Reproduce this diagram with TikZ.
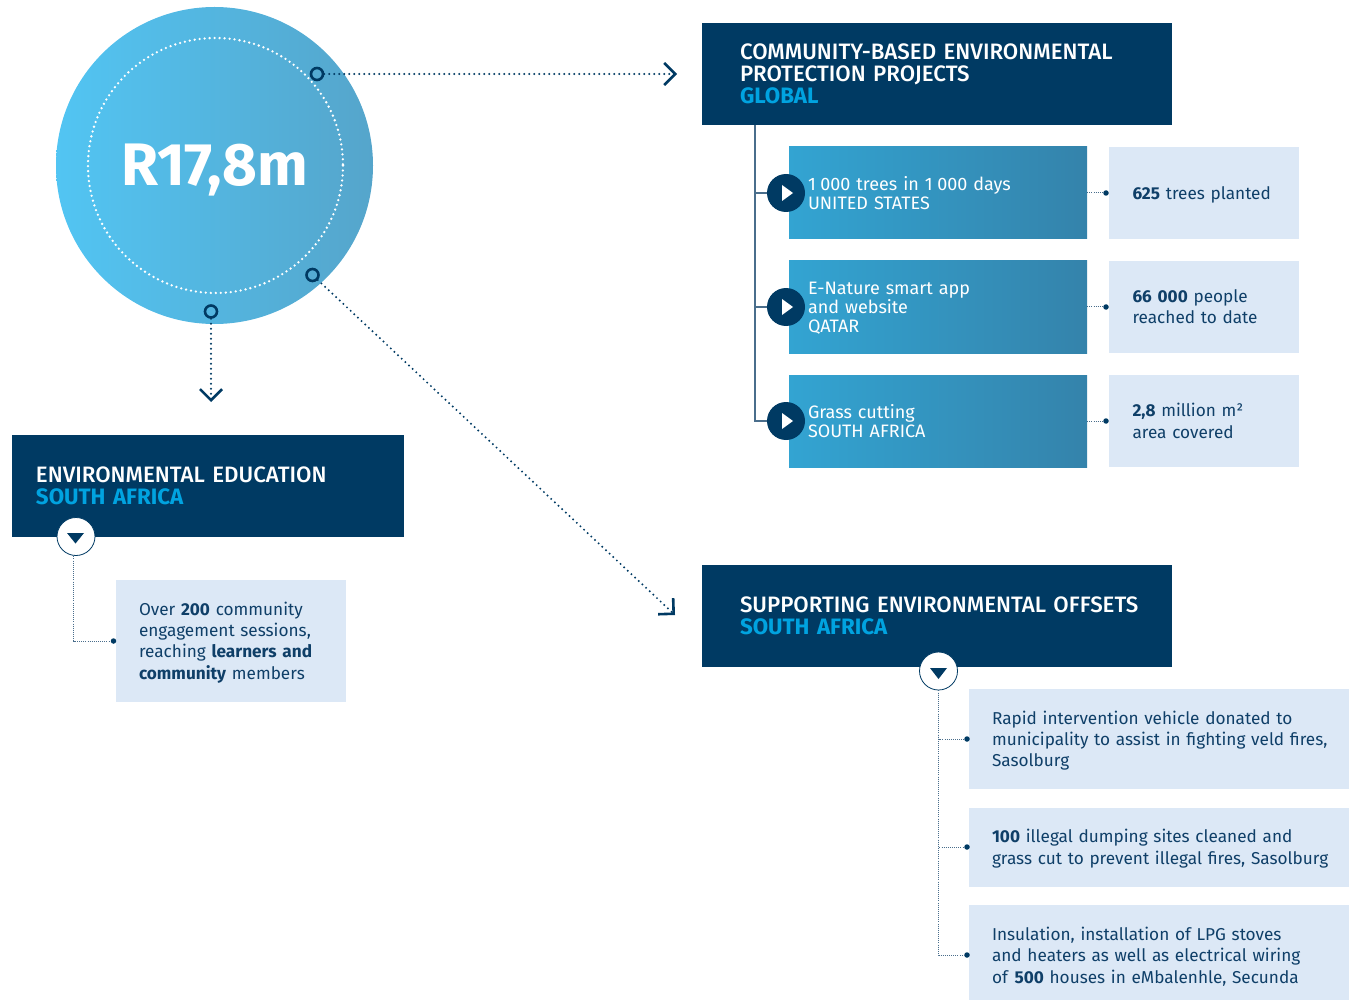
\documentclass[tikz,border=0pt]{standalone}
\usepackage{fontspec}
\setmainfont{Fira Sans}
\newfontfamily\headfont[BoldFont={Fira Sans Bold}]{Fira Sans Medium}
\usetikzlibrary{arrows.meta}

\definecolor{navy}{HTML}{003A63}
\definecolor{skyblue}{HTML}{00A3E0}
\definecolor{palebox}{HTML}{DCE8F6}
\definecolor{bodyink}{HTML}{0F3F68}
\definecolor{treeink}{HTML}{4A6E8C}
\definecolor{fundleft}{HTML}{33A4D2}
\definecolor{fundright}{HTML}{3483AB}
\definecolor{discleft}{HTML}{52C5F3}
\definecolor{discright}{HTML}{55A5CB}

\tikzset{inset/.style={inner xsep=0pt, inner ysep=0pt, align=left, execute at begin node={\leftskip=#1pt\relax}},
         dropped/.style={execute at begin node={\rule{0pt}{#1pt}}}}

\begin{document}
\begin{tikzpicture}[x=1pt, y=-1pt, node distance=114pt, >={Straight Barb[length=11pt, width=22pt, line width=2.6pt]}]
    \tikzstyle{headblock} = [rectangle, fill=navy, text=white, minimum height=102pt, inset=38, text width=470pt,
                            font=\headfont\fontsize{22.3}{21.8}\selectfont]
    \tikzstyle{fundblock} = [rectangle, left color=fundleft, middle color=fundleft!55!fundright, right color=fundright, text=white,
                            minimum height=92pt, inset=19, text width=298pt, font=\fontsize{18}{19}\selectfont]
    \tikzstyle{resultblock} = [rectangle, fill=palebox, text=bodyink, font=\fontsize{17.2}{21.3}\selectfont]
    \tikzstyle{ring} = [circle, draw=navy, line width=2.6pt, minimum size=12pt, inner sep=0pt]
    \tikzstyle{playdisc} = [circle, fill=navy, minimum size=38pt, inner sep=0pt]
    \tikzstyle{toggle} = [circle, fill=white, draw=navy, line width=.8pt, minimum size=38pt, inner sep=0pt]
    \tikzstyle{endpoint} = [circle, fill=navy, minimum size=5.5pt, inner sep=0pt]
    \tikzstyle{bigdots} = [navy, line width=2.2pt, line cap=round, dash pattern=on 0pt off 5pt]
    \tikzstyle{finedots} = [treeink, line width=1pt, dash pattern=on 1pt off 1.1pt]
    \tikzstyle{treeline} = [treeink, line width=1.1pt]

    \useasboundingbox (0,0) rectangle (1349,1000);

    % Disc and its three exits
    \node[circle, minimum size=317pt, inner sep=0pt, left color=discleft, middle color=discleft!50!discright, right color=discright, text=white,
          text height=40pt, text depth=0pt, font=\fontsize{60}{60}\selectfont\bfseries] (disc) at (214.5,165.5) {R17,8m};
    \draw[white, line width=2.6pt, line cap=round, dash pattern=on 0pt off 5pt] (215.5,165.5) circle[radius=127.5];
    \node[ring] (ringright) at (317,74) {};
    \node[ring] (ringdiag) at (312.5,275) {};
    \node[ring] (ringdown) at (211,311.5) {};
    \coordinate (endright) at (677,74);
    \coordinate (enddiag) at (675,615);
    \coordinate (enddown) at (211,402);
    \draw[bigdots, ->] (ringright) -- (endright);
    \draw[bigdots, ->] (ringdiag) -- (enddiag);
    \draw[bigdots, ->] (ringdown) -- (enddown);

    % Headers
    \node[headblock] (global) at (937,74) {COMMUNITY-BASED ENVIRONMENTAL\\PROTECTION PROJECTS\\\textcolor{skyblue}{\bfseries GLOBAL}};
    \node[headblock] (offsets) at (937,616) {SUPPORTING ENVIRONMENTAL OFFSETS\\\textcolor{skyblue}{\bfseries SOUTH AFRICA}};
    \node[headblock, inset=24, text width=392pt] (education) at (208,486) {ENVIRONMENTAL EDUCATION\\\textcolor{skyblue}{\bfseries SOUTH AFRICA}};

    % Global projects
    \coordinate (trunk) at (755,125);
    \node[fundblock] (trees) at (938,193) {1\hspace{4.5pt}000 trees in 1\hspace{4.5pt}000 days\\UNITED STATES};
    \node[fundblock, below of = trees, dropped=15] (app) {E-Nature smart app\\and website\\QATAR};
    \node[fundblock, below of = app] (grass) {Grass cutting\\SOUTH AFRICA};
    \node[resultblock, minimum height=92pt, inset=23.5, text width=190pt, dropped=17.5] (planted) at (1204,193) {\textbf{625} trees planted};
    \node[resultblock, minimum height=92pt, inset=23.5, text width=190pt, below of = planted] (reached) {\textbf{66 000} people\\reached to date};
    \node[resultblock, minimum height=92pt, inset=23.5, text width=190pt, below of = reached] (covered) {\textbf{2,8} million m²\\area covered};
    \draw[treeline] (trunk) -- (trunk |- 0,421) -- (786,421);
    \draw[treeline] (trunk |- 0,193) -- (786,193);
    \draw[treeline] (trunk |- 0,307) -- (786,307);
    \node[playdisc] (playtrees) at (786,193) {};
    \node[playdisc, below of = playtrees] (playapp) {};
    \node[playdisc, below of = playapp] (playgrass) {};
    \foreach \p in {playtrees,playapp,playgrass}
        \fill[white] ([shift={(-4,-8)}]\p.center) -- ([shift={(7,0)}]\p.center) -- ([shift={(-4,8)}]\p.center) -- cycle;
    \node[endpoint] (dottrees) at (1106,193) {};
    \node[endpoint] (dotapp) at (1106,307) {};
    \node[endpoint] (dotgrass) at (1106,421) {};
    \draw[finedots] (trees) -- (dottrees);
    \draw[finedots] (app) -- (dotapp);
    \draw[finedots] (grass) -- (dotgrass);

    % Education
    \node[resultblock, minimum height=122pt, inset=23, text width=230pt, dropped=16.5] (sessions) at (231,641) {Over \textbf{200} community\\engagement sessions,\\reaching \textbf{learners and}\\\textbf{community} members};
    \coordinate (elbow) at (73.5,550);
    \node[endpoint] (dotsessions) at (113.5,641) {};
    \draw[finedots] (elbow) |- (dotsessions);
    \node[toggle] (toggleleft) at (76,536.5) {};
    \fill[navy] ([shift={(-9,-3.5)}]toggleleft.center) -- ([shift={(8,-3.5)}]toggleleft.center) -- ([shift={(-.5,7)}]toggleleft.center) -- cycle;

    % Offsets
    \node[resultblock, minimum height=100pt, inset=23, text width=380pt, dropped=16.5] (vehicle) at (1159,739) {Rapid intervention vehicle donated to\\municipality to assist in fighting veld fires,\\Sasolburg};
    \node[resultblock, minimum height=79pt, inset=23, text width=380pt, dropped=15.5] (dumping) at (1159,847.5) {\textbf{100} illegal dumping sites cleaned and\\grass cut to prevent illegal fires, Sasolburg};
    \node[resultblock, minimum height=95pt, inset=23, text width=380pt, dropped=21.5] (houses) at (1159,952.5) {Insulation, installation of LPG stoves\\and heaters as well as electrical wiring\\of \textbf{500} houses in eMbalenhle, Secunda};
    \node[endpoint] (dotvehicle) at (967,739) {};
    \node[endpoint] (dotdumping) at (967,847) {};
    \node[endpoint] (dothouses) at (967,955) {};
    \node[toggle] (toggleright) at (938.5,671) {};
    \fill[navy] ([shift={(-8.5,-3)}]toggleright.center) -- ([shift={(8.5,-3)}]toggleright.center) -- ([shift={(0,8)}]toggleright.center) -- cycle;
    \draw[finedots] (toggleright.south) |- (dotvehicle);
    \draw[finedots] (toggleright.south) |- (dotdumping);
    \draw[finedots] (toggleright.south) |- (dothouses);
\end{tikzpicture}
\end{document}
